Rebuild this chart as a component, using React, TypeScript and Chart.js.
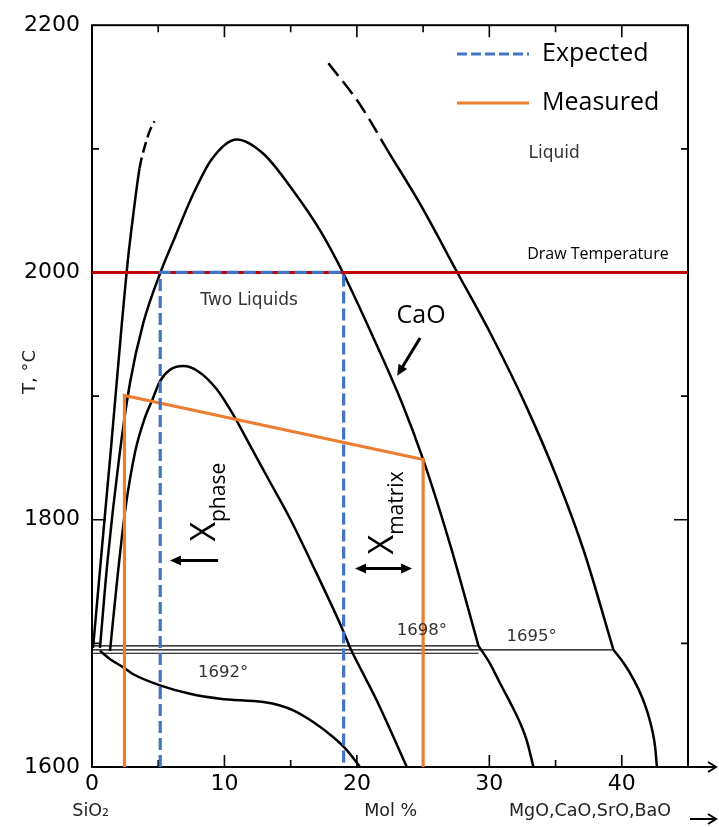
import React, { useEffect, useRef } from 'react';
import { Chart, registerables } from 'chart.js';

Chart.register(...registerables);

type P = [number, number];

// ---- axes ----
const X_MIN = 0;
const X_MAX = 45;
const Y_MIN = 1600;
const Y_MAX = 2200;
const xTickLabels = [0, 10, 20, 30, 40];
const yTickLabels = [1600, 1800, 2000, 2200];

// ---- phase boundary curves (mol %, T in °C) ----
// steep liquidus on the SiO2 side; the last points are the dashed (uncertain) part
const curveA: P[] = [[0.08, 1696.4], [0.76, 1778.3], [1.44, 1858.6], [2.19, 1951], [2.72, 2011.2], [3.17, 2051.4], [3.59, 2084.2], [4.0, 2102.6], [4.34, 2113.9], [4.71, 2122.3]];
const curveADashFrom = 6;
// CaO two-liquid dome and its liquidus
const curveB: P[] = [[0.6, 1696.4], [1.17, 1766.3], [2.01, 1846.6], [2.87, 1910.8], [3.87, 1959], [5.14, 1999.2], [6.27, 2028.7], [7.53, 2060.8], [9.04, 2091.6], [10.93, 2107.6], [12.92, 2096.2], [15.33, 2064.1], [17.22, 2034], [18.98, 1999.2], [20.97, 1953.7], [23.39, 1894.8], [25.02, 1848.2], [27.04, 1779.9], [29.18, 1698]];
const curveBLow: P[] = [[29.18, 1698], [30.06, 1683.5], [30.82, 1667.5], [31.57, 1652.3], [32.33, 1635.5], [32.86, 1620.2], [33.33, 1600]];
// inner dome
const curveC: P[] = [[1.36, 1694], [1.89, 1750.2], [2.49, 1806.4], [3.25, 1854.6], [4.0, 1882.7], [4.51, 1895.8], [5.14, 1912.2], [5.89, 1921.3], [6.9, 1924.3], [8.0, 1920.1], [9.42, 1905.5], [10.65, 1885.2], [11.93, 1860.2], [13.44, 1830.5], [14.95, 1801], [16.92, 1757.4], [18.86, 1712.7], [19.49, 1696.4], [20.47, 1675.5], [21.5, 1653.8], [22.76, 1624.3], [23.77, 1600]];
// lower S-shaped boundary
const curveD: P[] = [[0.6, 1694], [1.4, 1687], [2.37, 1680.6], [3.12, 1675], [5.14, 1666], [7.4, 1659.2], [9.67, 1655.2], [12.94, 1652.5], [14.2, 1649.8], [15.2, 1645.8], [16.7, 1636.4], [18.2, 1624.3], [19.24, 1613.7], [20.24, 1600]];
// outer liquidus; the first points are the dashed part
const curveE: P[] = [[17.85, 2169.2], [20.24, 2135.7], [22.36, 2098], [24.77, 2055.4], [27.55, 2000.6], [30.07, 1951], [32.77, 1892.1], [35.13, 1833.2], [37.15, 1774.3], [39.37, 1694.8]];
const curveEDashTo = 2;
const curveELow: P[] = [[39.37, 1694.8], [40.18, 1683.5], [40.94, 1669.9], [41.54, 1656.2], [41.99, 1642.6], [42.3, 1629.7], [42.52, 1616.1], [42.65, 1600.2]];
// monotectic lines
const line1698: P[] = [[0, 1698], [29.18, 1698]];
const line1695: P[] = [[0, 1694.8], [39.37, 1694.8]];
const line1692: P[] = [[0, 1692], [29.18, 1692]];

// ---- overlays ----
const drawTemperature: P[] = [[0, 2000], [45, 2000]];
const expected: P[] = [[5.15, 1600], [5.15, 2000], [19.0, 2000], [19.0, 1600]];
const measured: P[] = [[2.45, 1600], [2.45, 1900.5], [25.0, 1848.7], [25.0, 1600]];

const BLUE = '#4472C4';
const ORANGE = '#ED7D31';
const RED = '#C00000';

const toXY = (pts: P[]) => pts.map(([x, y]) => ({ x, y }));

function blackCurve(pts: P[], width = 2.5, dashed?: (i: number) => boolean, dash: number[] = [13, 5]) {
  const ds: any = {
    data: toXY(pts),
    borderColor: '#000',
    borderWidth: width,
    cubicInterpolationMode: 'monotone',
    pointRadius: 0,
    fill: false,
  };
  if (dashed) {
    ds.segment = { borderDash: (c: any) => (dashed(c.p0DataIndex) ? dash : []) };
  }
  return ds;
}

function arrowHead(ctx: CanvasRenderingContext2D, x1: number, y1: number, x2: number, y2: number, len: number, w: number) {
  const a = Math.atan2(y2 - y1, x2 - x1);
  const bx = x2 - len * Math.cos(a);
  const by = y2 - len * Math.sin(a);
  ctx.beginPath();
  ctx.moveTo(x2, y2);
  ctx.lineTo(bx + (w / 2) * Math.sin(a), by - (w / 2) * Math.cos(a));
  ctx.lineTo(bx - (w / 2) * Math.sin(a), by + (w / 2) * Math.cos(a));
  ctx.closePath();
  ctx.fill();
}

function arrow(ctx: CanvasRenderingContext2D, x1: number, y1: number, x2: number, y2: number, both = false) {
  const len = 11;
  const a = Math.atan2(y2 - y1, x2 - x1);
  const sx = both ? x1 + (len - 2) * Math.cos(a) : x1;
  const sy = both ? y1 + (len - 2) * Math.sin(a) : y1;
  ctx.beginPath();
  ctx.moveTo(sx, sy);
  ctx.lineTo(x2 - (len - 2) * Math.cos(a), y2 - (len - 2) * Math.sin(a));
  ctx.stroke();
  arrowHead(ctx, x1, y1, x2, y2, len, 10);
  if (both) arrowHead(ctx, x2, y2, x1, y1, len, 10);
}

const decorPlugin = {
  id: 'decor',
  beforeDatasetsDraw(chart: any) {
    const { ctx, chartArea: a } = chart;
    const xs = chart.scales.x;
    const ys = chart.scales.y;
    ctx.save();
    ctx.strokeStyle = '#000';
    ctx.lineWidth = 2;
    ctx.strokeRect(a.left, a.top, a.right - a.left, a.bottom - a.top);
    ctx.lineWidth = 1.6;
    ctx.beginPath();
    for (const t of xs.ticks) {
      const v = t.value;
      if (v <= X_MIN || v >= X_MAX) continue;
      const px = xs.getPixelForValue(v);
      const L = v % 10 === 0 ? 12 : 7;
      ctx.moveTo(px, a.bottom);
      ctx.lineTo(px, a.bottom - L);
      ctx.moveTo(px, a.top);
      ctx.lineTo(px, a.top + L);
    }
    for (const t of ys.ticks) {
      const v = t.value;
      if (v <= Y_MIN || v >= Y_MAX) continue;
      const py = ys.getPixelForValue(v);
      const L = v % 200 === 0 ? 14 : 7;
      ctx.moveTo(a.left, py);
      ctx.lineTo(a.left + L, py);
      ctx.moveTo(a.right, py);
      ctx.lineTo(a.right - L, py);
    }
    ctx.stroke();
    // axis arrow continuing beyond the frame
    ctx.lineWidth = 2;
    ctx.beginPath();
    ctx.moveTo(a.right, a.bottom);
    ctx.lineTo(716, a.bottom);
    ctx.moveTo(708, a.bottom - 5);
    ctx.lineTo(716, a.bottom);
    ctx.lineTo(708, a.bottom + 5);
    ctx.moveTo(690, 819);
    ctx.lineTo(716, 819);
    ctx.moveTo(708, 814);
    ctx.lineTo(716, 819);
    ctx.lineTo(708, 824);
    ctx.stroke();

    // second-row axis labels
    ctx.fillStyle = '#222';
    ctx.font = '17.5px "DejaVu Sans"';
    ctx.textBaseline = 'middle';
    ctx.textAlign = 'center';
    ctx.fillText('SiO₂', xs.getPixelForValue(-0.1), 811);
    ctx.fillText('Mol %', xs.getPixelForValue(22.55), 811);
    ctx.fillText('MgO,CaO,SrO,BaO', xs.getPixelForValue(37.6), 811);

    // y title
    ctx.save();
    ctx.translate(30, 372);
    ctx.rotate(-Math.PI / 2);
    ctx.font = '18px "DejaVu Sans"';
    ctx.fillText('T, °C', 0, 0);
    ctx.restore();
    ctx.restore();
  },
  afterDatasetsDraw(chart: any) {
    const { ctx } = chart;
    const xs = chart.scales.x;
    const ys = chart.scales.y;
    const X = (v: number) => xs.getPixelForValue(v);
    const Y = (v: number) => ys.getPixelForValue(v);
    ctx.save();
    ctx.textBaseline = 'middle';
    ctx.textAlign = 'center';

    // diagram labels
    ctx.fillStyle = '#333';
    ctx.font = '17px "DejaVu Sans"';
    ctx.fillText('Liquid', X(34.9), Y(2096));
    ctx.fillText('Two Liquids', X(11.86), Y(1977));
    ctx.font = '16.5px "DejaVu Sans"';
    ctx.fillText('1698°', X(24.9), Y(1710));
    ctx.fillText('1695°', X(33.2), Y(1705));
    ctx.fillText('1692°', X(9.9), Y(1676));

    ctx.fillStyle = '#000';
    ctx.font = '16px "Open Sans"';
    ctx.fillText('Draw Temperature', X(38.2), Y(2014.5));
    ctx.font = '25px "Open Sans"';
    ctx.fillText('CaO', X(24.85), Y(1965));

    // arrows
    ctx.strokeStyle = '#000';
    ctx.fillStyle = '#000';
    ctx.lineWidth = 3;
    arrow(ctx, X(24.77), Y(1947), X(23.04), Y(1916.5));
    arrow(ctx, X(9.52), Y(1767), X(5.89), Y(1767));
    arrow(ctx, X(19.86), Y(1760.6), X(24.17), Y(1760.6), true);

    // rotated X labels
    const rotLabel = (px: number, py: number, sub: string) => {
      ctx.save();
      ctx.translate(px, py);
      ctx.rotate(-Math.PI / 2);
      ctx.textAlign = 'left';
      ctx.textBaseline = 'alphabetic';
      ctx.font = '34px "Open Sans"';
      ctx.fillText('X', 0, 0);
      const w = ctx.measureText('X').width;
      ctx.font = '21px "Open Sans"';
      ctx.fillText(sub, w, 10);
      ctx.restore();
    };
    rotLabel(X(9.29), Y(1782.3), 'phase');
    rotLabel(X(22.73), Y(1771.9), 'matrix');

    // legend
    ctx.lineWidth = 3;
    ctx.strokeStyle = BLUE;
    ctx.setLineDash([10, 4]);
    ctx.beginPath();
    ctx.moveTo(457, 54);
    ctx.lineTo(529, 54);
    ctx.stroke();
    ctx.setLineDash([]);
    ctx.strokeStyle = ORANGE;
    ctx.beginPath();
    ctx.moveTo(457, 103);
    ctx.lineTo(529, 103);
    ctx.stroke();
    ctx.fillStyle = '#000';
    ctx.textAlign = 'left';
    ctx.textBaseline = 'middle';
    ctx.font = '25px "Open Sans"';
    ctx.fillText('Expected', 542, 54);
    ctx.fillText('Measured', 542, 103);
    ctx.restore();
  },
};

export default function App() {
  const ref = useRef<HTMLCanvasElement>(null);
  useEffect(() => {
    const canvas = ref.current;
    if (!canvas) return;
    const chart = new Chart(canvas, {
      type: 'line',
      data: {
        datasets: [
          { label: 'Expected', data: toXY(expected), borderColor: BLUE, borderWidth: 3.2, borderDash: [12, 5], tension: 0, pointRadius: 0, fill: false },
          { label: 'Measured', data: toXY(measured), borderColor: ORANGE, borderWidth: 3.2, tension: 0, pointRadius: 0, fill: false },
          { label: 'Draw Temperature', data: toXY(drawTemperature), borderColor: RED, borderWidth: 3, tension: 0, pointRadius: 0, fill: false },
          blackCurve(curveA, 2.5, (i) => i >= curveADashFrom, [11, 5]),
          blackCurve(curveB),
          blackCurve(curveBLow),
          blackCurve(curveC),
          blackCurve(curveD),
          blackCurve(curveE, 2.5, (i) => i < curveEDashTo, [16, 7]),
          blackCurve(curveELow),
          blackCurve(line1698, 1.2),
          blackCurve(line1695, 1.2),
          blackCurve(line1692, 1.2),
        ] as any,
      },
      options: {
        responsive: false,
        animation: false,
        devicePixelRatio: 1,
        layout: { padding: { left: 0, right: 31, top: 20, bottom: 0 } },
        plugins: { legend: { display: false }, tooltip: { enabled: false } },
        scales: {
          x: {
            type: 'linear',
            min: X_MIN,
            max: X_MAX,
            grid: { display: false, drawTicks: false },
            border: { display: false },
            ticks: {
              stepSize: 5,
              autoSkip: false,
              maxRotation: 0,
              padding: 4,
              color: '#000',
              font: { family: 'DejaVu Sans', size: 22 },
              callback: (v: any) => (xTickLabels.includes(Number(v)) ? String(v) : ''),
            },
            afterFit: (s: any) => {
              s.height = 60;
            },
          },
          y: {
            type: 'linear',
            min: Y_MIN,
            max: Y_MAX,
            grid: { display: false, drawTicks: false },
            border: { display: false },
            ticks: {
              stepSize: 100,
              autoSkip: false,
              padding: 12,
              color: '#000',
              font: { family: 'DejaVu Sans', size: 22 },
              callback: (v: any) => (yTickLabels.includes(Number(v)) ? String(v) : ''),
            },
            afterFit: (s: any) => {
              s.width = 92;
            },
          },
        },
      } as any,
      plugins: [decorPlugin],
    });
    return () => chart.destroy();
  }, []);
  return (
    <div style={{ position: 'fixed', left: 0, top: 0, width: 719, height: 827, background: '#fff' }}>
      <canvas ref={ref} width={719} height={827} style={{ display: 'block', width: 719, height: 827 }} />
    </div>
  );
}
